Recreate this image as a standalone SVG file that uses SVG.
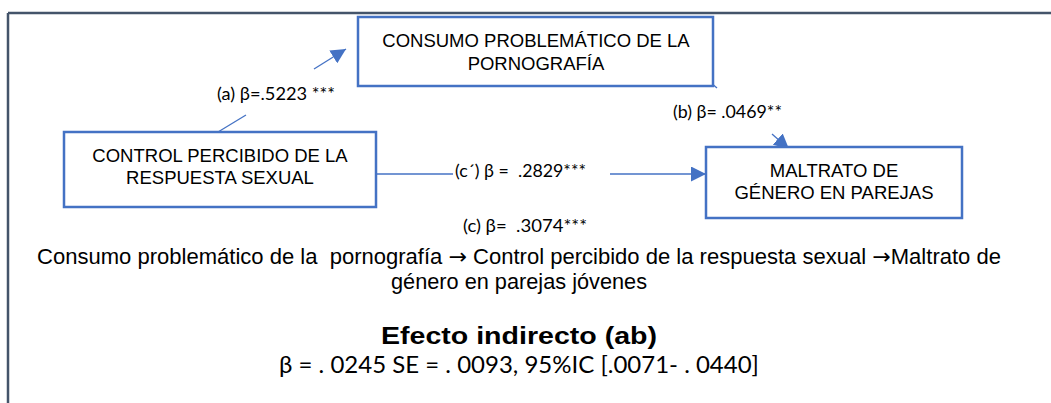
<svg xmlns="http://www.w3.org/2000/svg" width="1051" height="403" viewBox="0 0 1051 403">
<style>
.box{fill:#fff;stroke:#4472C4;stroke-width:2.5}
.bt{font-family:"Liberation Sans",Arial,sans-serif;font-size:18.5px;fill:#000;text-anchor:middle}
.lbl{font-family:Lato,"Liberation Sans",sans-serif;font-size:18px;fill:#000}
.con{stroke:#4472C4;stroke-width:1.3;fill:none}
.cap{font-family:"Liberation Sans",Arial,sans-serif;font-size:21.5px;fill:#000}
.arr{font-family:"DejaVu Sans",sans-serif}
</style>
<defs>
<marker id="ahL" viewBox="0 0 10 10" refX="10" refY="5" markerWidth="15" markerHeight="15" markerUnits="userSpaceOnUse" orient="auto">
<path d="M0,0 L10,5 L0,10 z" fill="#4472C4"/>
</marker>
</defs>
<rect width="1051" height="403" fill="#fff"/>
<g id="frame">
<line x1="8" y1="13" x2="1051" y2="13" stroke="#44546A" stroke-width="2.5"/>
<line x1="8" y1="13" x2="8" y2="403" stroke="#44546A" stroke-width="2.5"/>
</g>
<g id="connectors">
<line class="con" x1="218" y1="132" x2="246" y2="115"/>
<line class="con" x1="314" y1="69" x2="346" y2="49" marker-end="url(#ahL)"/>
<line class="con" x1="697" y1="71" x2="717" y2="88"/>
<line class="con" x1="772" y1="134" x2="789" y2="149" marker-end="url(#ahL)"/>
<line class="con" x1="377" y1="174" x2="453" y2="174"/>
<line class="con" x1="610" y1="174" x2="706" y2="174" marker-end="url(#ahL)"/>
</g>
<g id="node-consumo">
<rect class="box" x="358" y="17" width="355" height="69"/>
<text class="bt" x="536" y="47">CONSUMO PROBLEMÁTICO DE LA</text>
<text class="bt" x="536" y="70">PORNOGRAFÍA</text>
</g>
<g id="node-control">
<rect class="box" x="64" y="132" width="312" height="75"/>
<text class="bt" x="220" y="162">CONTROL PERCIBIDO DE LA</text>
<text class="bt" x="220" y="184">RESPUESTA SEXUAL</text>
</g>
<g id="node-maltrato">
<rect class="box" x="706" y="147" width="256" height="71"/>
<text class="bt" x="834" y="177">MALTRATO DE</text>
<text class="bt" x="834" y="199">GÉNERO EN PAREJAS</text>
</g>
<g id="labels">
<text class="lbl" x="217" y="100" textLength="118" lengthAdjust="spacingAndGlyphs">(a) β=.5223 ***</text>
<text class="lbl" x="673" y="118" textLength="109" lengthAdjust="spacingAndGlyphs">(b) β= .0469**</text>
<text class="lbl" x="455" y="177" textLength="131" lengthAdjust="spacingAndGlyphs" xml:space="preserve">(c´) β =  .2829***</text>
<text class="lbl" x="463" y="232" textLength="124" lengthAdjust="spacingAndGlyphs" xml:space="preserve">(c) β=  .3074***</text>
</g>
<g id="caption">
<text class="cap" x="37" y="264" textLength="964" lengthAdjust="spacingAndGlyphs" xml:space="preserve">Consumo problemático de la  pornografía <tspan class="arr">→</tspan> Control percibido de la respuesta sexual <tspan class="arr">→</tspan>Maltrato de</text>
<text class="cap" x="391" y="289" textLength="256" lengthAdjust="spacingAndGlyphs">género en parejas jóvenes</text>
<text x="381" y="344" textLength="276" lengthAdjust="spacingAndGlyphs" font-family="'Liberation Sans',Arial,sans-serif" font-weight="bold" font-size="24.5">Efecto indirecto (ab)</text>
<text x="519" y="373" font-family="Lato,'Liberation Sans',sans-serif" font-size="24" text-anchor="middle">β = . 0245 SE = . 0093, 95%IC [.0071- . 0440]</text>
</g>
</svg>
